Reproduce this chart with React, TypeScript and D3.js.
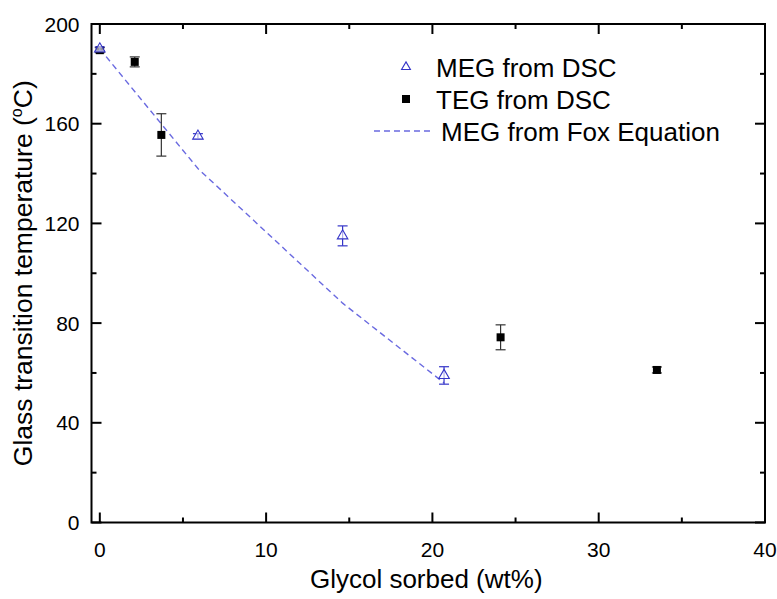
import React from "react";
import * as d3 from "d3";

const megX = [0, 5.9, 14.6, 20.7];
const megY = [190, 155, 115, 59];
const megErr = [0.8, 1, 4, 3.5];

const tegX = [0, 2.1, 3.7, 24.1, 33.5];
const tegY = [189.5, 184.8, 155.5, 74.3, 61.2];
const tegErr = [1, 2, 8.5, 5, 1.2];

const foxX = [0, 5.9, 14.6, 20.7];
const foxY = [190, 142, 88, 56];

const xMajor = [0, 10, 20, 30, 40];
const xMinor = [5, 15, 25, 35];
const yMajor = [0, 40, 80, 120, 160, 200];
const yMinor = [20, 60, 100, 140, 180];

const legendLabels = ["MEG from DSC", "TEG from DSC", "MEG from Fox Equation"];

const W = 777, H = 599;
const L = 91.5, R = 765, T = 24, B = 522.5;
const FONT = "Arial, 'Liberation Sans', sans-serif";
const BLUE = "#3535c8";
const DASH = "#6a6ae0";

export default function App() {
  const x = d3.scaleLinear().domain([-0.5, 40]).range([L, R]);
  const y = d3.scaleLinear().domain([0, 200]).range([B, T]);
  const line = d3.line<number>().x((d, i) => x(foxX[i])).y((d, i) => y(foxY[i]));
  const tri = d3.symbol().type(d3.symbolTriangle).size(48)();

  const majorLen = 10, minorLen = 5;

  return (
    <svg width={W} height={H} style={{ position: "absolute", left: 0, top: 0, background: "#fff" }}>
      <rect width={W} height={H} fill="#fff" />
      <g stroke="#000" strokeWidth={2}>
        {xMajor.map((v) => (
          <g key={"xm" + v}>
            <line x1={x(v)} x2={x(v)} y1={B} y2={B - majorLen} />
            <line x1={x(v)} x2={x(v)} y1={T} y2={T + majorLen} />
          </g>
        ))}
        {xMinor.map((v) => (
          <g key={"xn" + v}>
            <line x1={x(v)} x2={x(v)} y1={B} y2={B - minorLen} />
            <line x1={x(v)} x2={x(v)} y1={T} y2={T + minorLen} />
          </g>
        ))}
        {yMajor.map((v) => (
          <g key={"ym" + v}>
            <line x1={L} x2={L + majorLen} y1={y(v)} y2={y(v)} />
            <line x1={R} x2={R - majorLen} y1={y(v)} y2={y(v)} />
          </g>
        ))}
        {yMinor.map((v) => (
          <g key={"yn" + v}>
            <line x1={L} x2={L + minorLen} y1={y(v)} y2={y(v)} />
            <line x1={R} x2={R - minorLen} y1={y(v)} y2={y(v)} />
          </g>
        ))}
      </g>
      <rect x={L} y={T} width={R - L} height={B - T} fill="none" stroke="#000" strokeWidth={2} />

      <g fontFamily={FONT} fontSize={21} fill="#000">
        {xMajor.map((v) => (
          <text key={"xl" + v} x={x(v)} y={B + 34} textAnchor="middle">{v}</text>
        ))}
        {yMajor.map((v) => (
          <text key={"yl" + v} x={L - 12} y={y(v) + 7.5} textAnchor="end">{v}</text>
        ))}
      </g>

      <text x={(L + R) / 2 - 2} y={588} textAnchor="middle" fontFamily={FONT} fontSize={26}>Glycol sorbed (wt%)</text>
      <text transform={`translate(32, ${(T + B) / 2}) rotate(-90)`} textAnchor="middle" fontFamily={FONT} fontSize={26.5}>
        Glass transition temperature (<tspan fontSize={16} dy={-10}>o</tspan><tspan dy={10}>C)</tspan>
      </text>

      <path d={line(foxY) || ""} fill="none" stroke={DASH} strokeWidth={1.4} strokeDasharray="6,4" />

      <g stroke="#333" strokeWidth={1.2}>
        {tegX.map((v, i) => (
          <g key={"te" + i}>
            <line x1={x(v)} x2={x(v)} y1={y(tegY[i] - tegErr[i])} y2={y(tegY[i] + tegErr[i])} />
            <line x1={x(v) - 5} x2={x(v) + 5} y1={y(tegY[i] - tegErr[i])} y2={y(tegY[i] - tegErr[i])} />
            <line x1={x(v) - 5} x2={x(v) + 5} y1={y(tegY[i] + tegErr[i])} y2={y(tegY[i] + tegErr[i])} />
          </g>
        ))}
      </g>
      {tegX.map((v, i) => (
        <rect key={"ts" + i} x={x(v) - 4} y={y(tegY[i]) - 4} width={8} height={8} fill="#000" />
      ))}

      <g stroke={BLUE} strokeWidth={1.2}>
        {megX.map((v, i) => (
          <g key={"me" + i}>
            <line x1={x(v)} x2={x(v)} y1={y(megY[i] - megErr[i])} y2={y(megY[i] + megErr[i])} />
            <line x1={x(v) - 5} x2={x(v) + 5} y1={y(megY[i] - megErr[i])} y2={y(megY[i] - megErr[i])} />
            <line x1={x(v) - 5} x2={x(v) + 5} y1={y(megY[i] + megErr[i])} y2={y(megY[i] + megErr[i])} />
          </g>
        ))}
      </g>
      {megX.map((v, i) => (
        <path key={"mt" + i} d={tri || ""} transform={`translate(${x(v)},${y(megY[i])})`} fill="#fff" fillOpacity={0.6} stroke={BLUE} strokeWidth={1.1} />
      ))}

      <g fontFamily={FONT} fontSize={26} fill="#000">
        <path d={d3.symbol().type(d3.symbolTriangle).size(34)() || ""} transform="translate(406,67)" fill="none" stroke={BLUE} strokeWidth={1.1} />
        <text x={436} y={76.5}>{legendLabels[0]}</text>
        <rect x={402} y={95} width={8} height={8} fill="#000" />
        <text x={436} y={108.5}>{legendLabels[1]}</text>
        <line x1={374} x2={432} y1={131} y2={131} stroke={DASH} strokeWidth={1.4} strokeDasharray="6,4" />
        <text x={441} y={140.5}>{legendLabels[2]}</text>
      </g>
    </svg>
  );
}
